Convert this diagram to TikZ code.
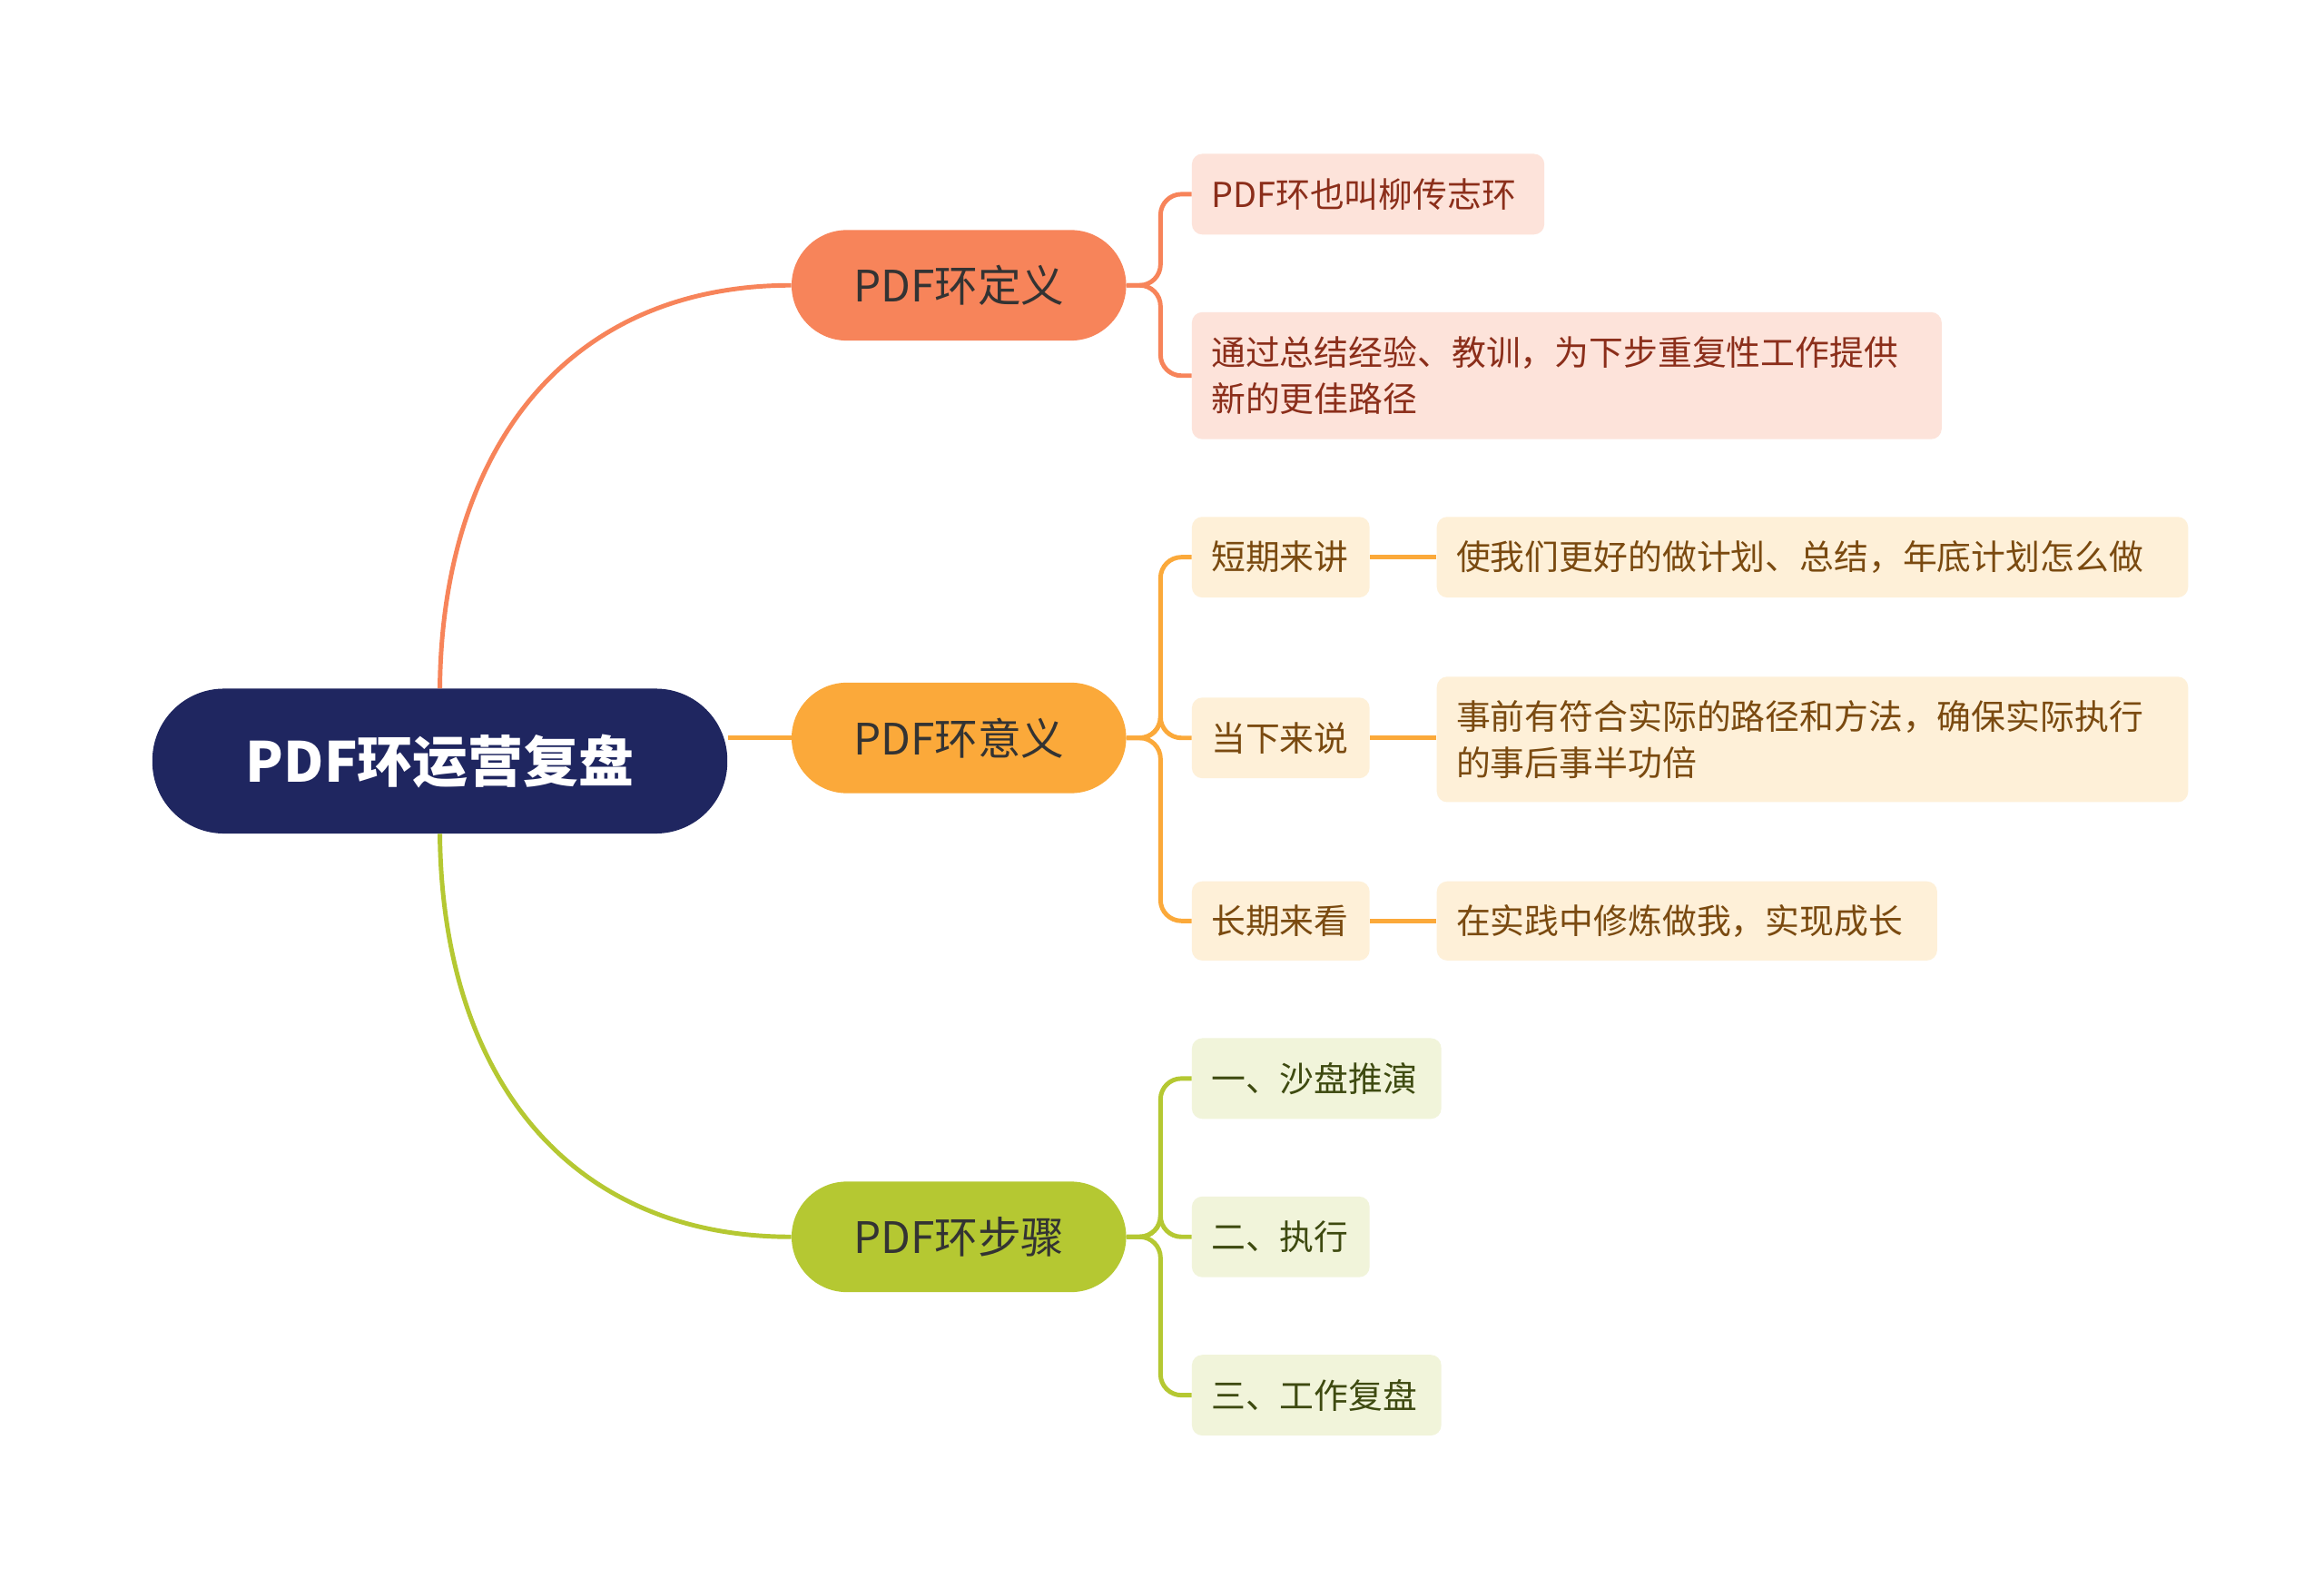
\documentclass[tikz,border=0pt]{standalone}
\usepackage{fontspec}
\setmainfont{Noto Sans CJK SC}
\definecolor{navy}{HTML}{1F2660}
\definecolor{coral}{HTML}{F7845A}
\definecolor{orng}{HTML}{FBA93A}
\definecolor{grn}{HTML}{B5C832}
\definecolor{fa}{HTML}{FDE3DA}
\definecolor{fb}{HTML}{FEF0D8}
\definecolor{fc}{HTML}{F1F4DA}
\definecolor{ta}{HTML}{8B2E1A}
\definecolor{tb}{HTML}{7A4A10}
\definecolor{tc}{HTML}{3E4A10}
\newcommand{\mybox}[8]{\node[#6,minimum width={#3-#2},minimum height={#5-#4},text width={#3-#2-26},inner sep=0pt,align=left] (#1) at ({(#2+#3)/2},{(#4+#5)/2}) {#7#8};}
\tikzset{
 leafa/.style={fill=fa,rounded corners=7pt,text=ta,font=\fontsize{23}{31}\selectfont},
 leafb/.style={fill=fb,rounded corners=7pt,text=tb,font=\fontsize{23}{31}\selectfont},
 leafc/.style={fill=fc,rounded corners=7pt,text=tc,font=\fontsize{23}{31}\selectfont},
 lvl/.style={rounded corners=37pt,minimum width=224pt,minimum height=74pt,text=black!80,font=\fontsize{29}{34}\selectfont},
 con/.style={line width=3pt},
}
\begin{document}
\begin{tikzpicture}[x=1pt,y=-1pt]
\useasboundingbox[fill=white] (0,0) rectangle (1556,1056);
\node[fill=navy,rounded corners=48pt,minimum width=385pt,minimum height=97pt,text=white,font=\fontsize{37}{42}\bfseries\selectfont] (root) at (294.5,509.5) {PDF环运营复盘};
\node[lvl,fill=coral] (a) at (642,191) {PDF环定义};
\node[lvl,fill=orng] (b) at (642,494) {PDF环意义};
\node[lvl,fill=grn] (c) at (642,828) {PDF环步骤};
\draw[con,coral] (root.north) .. controls (296,300) and (380,191) .. (a.west);
\draw[con,orng] (root.east |- b.west) -- (b.west);
\draw[con,grn] (root.south) .. controls (296,720) and (380,828) .. (c.west);
\mybox{a1}{798}{1034}{103}{157}{leafa}{}{PDF环也叫柳传志环}
\mybox{a2}{798}{1300}{209}{294}{leafa}{}{通过总结经验、教训，为下步重复性工作提供\\新的更佳路径}
\mybox{b1}{798}{917}{346}{400}{leafb}{}{短期来讲}
\mybox{b2}{798}{917}{467}{521}{leafb}{}{当下来说}
\mybox{b3}{798}{917}{590}{643}{leafb}{}{长期来看}
\mybox{b11}{962}{1465}{346}{400}{leafb}{}{使我们更好的做计划、总结，年底计划怎么做}
\mybox{b21}{962}{1465}{453}{537}{leafb}{}{事前有符合实际的路径和方法，确保实际执行\\的事后事半功倍}
\mybox{b31}{962}{1297}{590}{643}{leafb}{}{在实践中修炼做我，实现成长}
\mybox{c1}{798}{965}{695}{749}{leafc}{}{一、沙盘推演}
\mybox{c2}{798}{917}{801}{855}{leafc}{}{二、执行}
\mybox{c3}{798}{965}{907}{961}{leafc}{}{三、工作复盘}
\foreach \n in {a1,a2}{\draw[con,coral,rounded corners=14pt] (a.east) -- (777,191) |- (\n.west);}
\foreach \n in {b1,b2,b3}{\draw[con,orng,rounded corners=14pt] (b.east) -- (777,494) |- (\n.west);}
\foreach \n in {c1,c2,c3}{\draw[con,grn,rounded corners=14pt] (c.east) -- (777,828) |- (\n.west);}
\draw[con,orng] (b1.east) -- (b11.west);
\draw[con,orng] (b2.east) -- (b2.east -| b21.west);
\draw[con,orng] (b3.east) -- (b31.west);
\end{tikzpicture}
\end{document}
